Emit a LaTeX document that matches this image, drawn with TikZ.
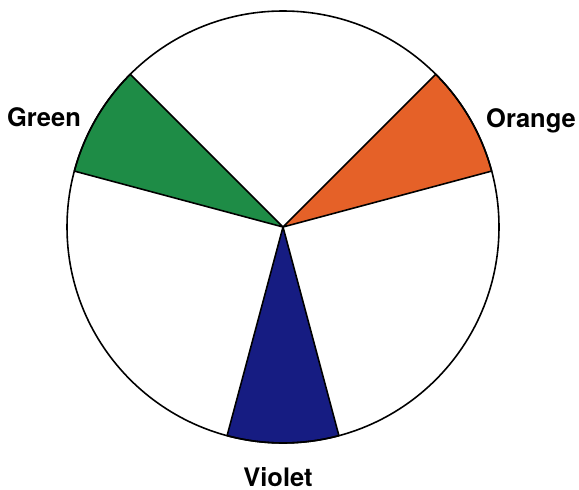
\documentclass[tikz,border=0pt]{standalone}
\usepackage{fontspec}
\setmainfont{TeX Gyre Heros}
\usetikzlibrary{positioning}

\begin{document}
\begin{tikzpicture}[line width=0.9pt]
\definecolor{wgreen}{RGB}{30,140,70}
\definecolor{worange}{RGB}{229,97,40}
\definecolor{wviolet}{RGB}{22,28,130}
\tikzset{hue/.style={font=\bfseries\fontsize{14.5}{16}\selectfont, anchor=base, inner sep=0pt}}
\useasboundingbox (0,0) rectangle (11.58,9.78);
\coordinate (c) at (5.66,5.24);
% wheel
\fill[white] (c) circle (4.32);
% coloured sectors
\foreach \a/\col in {15/worange, 135/wgreen, 255/wviolet} {
  \draw[fill=\col, line join=round] (c) -- ++(\a:4.32)
    arc[start angle=\a, end angle=\a+30, radius=4.32] -- cycle;
}
\draw (c) circle (4.32);
% labels
\node[hue] (green) at (0.88,7.24) {Green};
\node[hue] (orange) at (10.62,7.22) {Orange};
\node[hue] (violet) at (5.56,0.06) {Violet};
\end{tikzpicture}
\end{document}
